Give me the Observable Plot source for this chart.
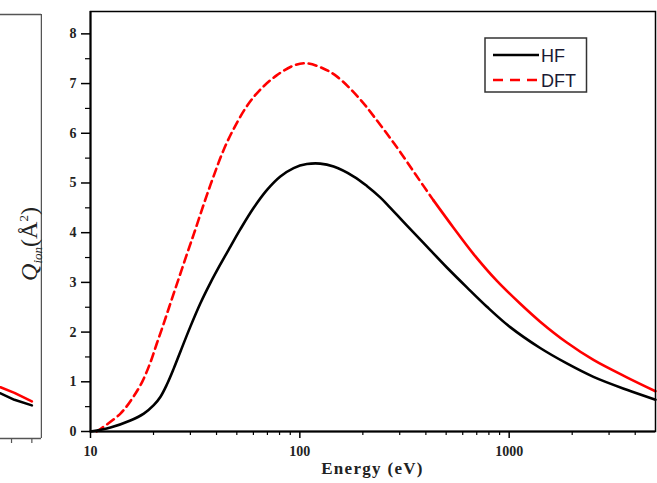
<!DOCTYPE html>
<html>
<head>
<meta charset="utf-8">
<script src="https://cdn.jsdelivr.net/npm/d3@7"></script>
<script src="https://cdn.jsdelivr.net/npm/@observablehq/plot@0.6"></script>
<style>
  html, body { margin: 0; padding: 0; background: white; }
  #wrap { position: relative; width: 657px; height: 483px; overflow: hidden; background: white; }
  #wrap > * { position: absolute; }
  .ylab { font-family: "Liberation Serif", "Times New Roman", serif; font-size: 24px; white-space: nowrap; line-height: 24px; color: #222; }
  .ylab sub { font-size: 13px; }
  .ylab sup { font-size: 13px; }
  .xlab { font-family: "Liberation Serif", "Times New Roman", serif; font-weight: bold; font-size: 17px; letter-spacing: 1.3px; line-height: 17px; text-align: center; color: #222; }
</style>
</head>
<body>
<div id="wrap"></div>
<script>
// ---- data ----
const hfEnergy = [10, 12.46, 15.5, 17.97, 20.05, 21.6, 23.2, 25, 26.9, 30, 33.5, 37.4, 41.7, 46.6, 52, 60.2, 69.7, 80.7, 93.4, 108, 125, 145, 181, 209, 242, 261, 325, 405, 504, 628, 783, 1011, 1406, 1885, 2527, 3647, 5000];
const hfQ      = [0, 0.08, 0.22, 0.36, 0.53, 0.70, 0.95, 1.27, 1.61, 2.11, 2.58, 2.99, 3.36, 3.72, 4.07, 4.50, 4.86, 5.13, 5.30, 5.38, 5.39, 5.33, 5.13, 4.94, 4.71, 4.57, 4.14, 3.72, 3.30, 2.90, 2.51, 2.10, 1.68, 1.37, 1.10, 0.84, 0.64];

const dftEnergy = [10.7, 11.16, 13.9, 15.8, 17.66, 19.33, 20.7, 22.2, 23.75, 25.4, 27.2, 29.1, 31.2, 34.8, 38.6, 43.1, 47.9, 55.5, 64.1, 77.2, 93.1, 106.2, 125.3, 150.6, 194.4, 224.7, 265, 302, 356, 435, 542, 676, 874, 1130, 1406, 1885, 2527, 3647, 5000];
const dftQ      = [0, 0.05, 0.36, 0.66, 1.0, 1.39, 1.76, 2.13, 2.50, 2.87, 3.24, 3.61, 3.98, 4.58, 5.12, 5.65, 6.06, 6.53, 6.86, 7.16, 7.36, 7.41, 7.33, 7.14, 6.68, 6.35, 5.95, 5.62, 5.18, 4.65, 4.10, 3.57, 3.03, 2.57, 2.21, 1.79, 1.44, 1.09, 0.81];

// tail of the neighbouring (left) panel that is cut off by the picture edge
const fragEnergy = [3544, 4130, 5000];
const fragHF     = [0.9, 0.77, 0.66];
const fragDFT    = [1.02, 0.91, 0.74];

const xMajor = [10, 100, 1000];
const xMinor = [20, 30, 40, 50, 60, 70, 80, 90, 200, 300, 400, 500, 600, 700, 800, 900, 2000, 3000, 4000];
const yMajor = [0, 1, 2, 3, 4, 5, 6, 7, 8];
const yMinor = [0.5, 1.5, 2.5, 3.5, 4.5, 5.5, 6.5, 7.5];
const fragTicks = [4000, 5000];

const xDomain = [10, 5000];
const yDomain = [0, 8.45];
const fragDomain = [3544, 5559];

const series = ["HF", "DFT"];

// ---- tables ----
const hf = hfEnergy.map((e, i) => ({E: e, Q: hfQ[i]}));
const dft = dftEnergy.map((e, i) => ({E: e, Q: dftQ[i]}));
const fHF = fragEnergy.map((e, i) => ({E: e, Q: fragHF[i]}));
const fDFT = fragEnergy.map((e, i) => ({E: e, Q: fragDFT[i]}));

const serif = "'Liberation Serif', 'Times New Roman', serif";
const tickText = {fontFamily: serif, fontSize: 14, fontWeight: "bold", fill: "#222"};
const SPLIT = 435;
const DASH = "8,5";

const wrap = document.getElementById("wrap");

const main = Plot.plot({
  width: 657,
  height: 483,
  marginLeft: 90,
  marginRight: 2,
  marginTop: 11,
  marginBottom: 52,
  style: {background: "transparent", fontFamily: serif, fontSize: "14px", overflow: "visible"},
  x: {type: "log", domain: xDomain},
  y: {domain: yDomain},
  marks: [
    Plot.line(dft.filter(d => d.E <= SPLIT), {x: "E", y: "Q", stroke: "#ff0000", strokeWidth: 2.6, strokeDasharray: DASH, curve: "catmull-rom"}),
    Plot.line(dft.filter(d => d.E >= SPLIT), {x: "E", y: "Q", stroke: "#ff0000", strokeWidth: 2.6, curve: "catmull-rom"}),
    Plot.line(hf, {x: "E", y: "Q", stroke: "black", strokeWidth: 2.6, curve: "catmull-rom"}),
    Plot.frame({stroke: "black", strokeWidth: 1.5}),
    Plot.ruleX([xDomain[0]], {stroke: "black", strokeWidth: 2}),
    Plot.ruleY([yDomain[0]], {stroke: "black", strokeWidth: 2}),
    Plot.axisX(xMajor, {anchor: "bottom", tickSize: 7, tickPadding: 8, strokeWidth: 1.5, tickFormat: d => String(d), label: null, ...tickText}),
    Plot.axisX(xMinor, {anchor: "bottom", tickSize: 4, strokeWidth: 1.2, tickFormat: () => "", label: null}),
    Plot.axisY(yMajor, {anchor: "left", tickSize: 9, tickPadding: 5, strokeWidth: 1.5, tickFormat: d => String(d), label: null, ...tickText}),
    Plot.axisY(yMinor, {anchor: "left", tickSize: 5, strokeWidth: 1.2, tickFormat: () => "", label: null})
  ]
});
// put the dash pattern on the path element of the first (dashed DFT) line mark too
const lineGroups = main.querySelectorAll('g[aria-label="line"]');
if (lineGroups.length) {
  lineGroups[0].querySelectorAll("path").forEach(el => el.setAttribute("stroke-dasharray", DASH));
}
main.style.left = "0px";
main.style.top = "0px";
wrap.appendChild(main);

const frag = Plot.plot({
  width: 42,
  height: 483,
  marginLeft: 0,
  marginRight: 1,
  marginTop: 14,
  marginBottom: 45,
  style: {background: "transparent", overflow: "hidden"},
  x: {type: "log", domain: fragDomain},
  y: {domain: yDomain, axis: null},
  marks: [
    Plot.line(fDFT, {x: "E", y: "Q", stroke: "#ff0000", strokeWidth: 2.6}),
    Plot.line(fHF, {x: "E", y: "Q", stroke: "black", strokeWidth: 2.6}),
    Plot.ruleY([yDomain[1]], {stroke: "#555", strokeWidth: 1.5}),
    Plot.ruleY([yDomain[0]], {stroke: "#555", strokeWidth: 1.5}),
    Plot.ruleX([fragDomain[1]], {stroke: "#555", strokeWidth: 1.5}),
    Plot.axisX(fragTicks, {anchor: "bottom", tickSize: 5, stroke: "#555", strokeWidth: 1.2, tickFormat: () => "", label: null})
  ]
});
frag.style.left = "0px";
frag.style.top = "0px";
wrap.appendChild(frag);

// y-axis title
const ylab = document.createElement("div");
ylab.className = "ylab";
ylab.innerHTML = "<i>Q</i><sub><i>ion</i></sub>(Å<sup>2</sup>)";
ylab.style.left = "31px";
ylab.style.top = "244px";
ylab.style.transform = "translate(-50%, -50%) rotate(-90deg)";
wrap.appendChild(ylab);

// x-axis title
const xlab = document.createElement("div");
xlab.className = "xlab";
xlab.textContent = "Energy (eV)";
xlab.style.left = "90px";
xlab.style.width = "565px";
xlab.style.top = "460px";
wrap.appendChild(xlab);

// legend
const ns = "http://www.w3.org/2000/svg";
const leg = document.createElementNS(ns, "svg");
leg.setAttribute("width", "104");
leg.setAttribute("height", "57");
leg.style.left = "484px";
leg.style.top = "37px";
const legStyles = [
  {stroke: "black", dash: null, y: 18},
  {stroke: "#ff0000", dash: "10 7", y: 43}
];
let html = `<rect x="1" y="1" width="101.5" height="54" fill="white" stroke="#333" stroke-width="1.5"/>`;
series.forEach((name, i) => {
  const s = legStyles[i];
  html += `<line x1="9" x2="55" y1="${s.y}" y2="${s.y}" stroke="${s.stroke}" stroke-width="2.6"${s.dash ? ` stroke-dasharray="${s.dash}"` : ""}/>`;
  html += `<text x="57" y="${s.y + 6.5}" font-family="'Liberation Sans', Arial, sans-serif" font-size="18" fill="#1a1a33">${name}</text>`;
});
leg.innerHTML = html;
wrap.appendChild(leg);
</script>
</body>
</html>
